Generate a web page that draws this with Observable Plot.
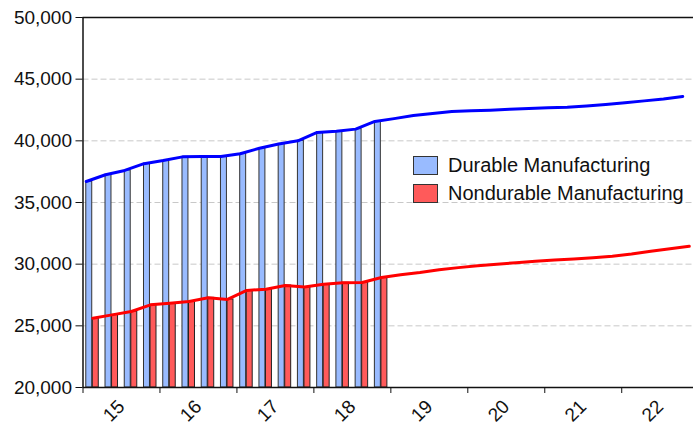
<!DOCTYPE html>
<html>
<head>
<meta charset="utf-8">
<script src="https://cdn.jsdelivr.net/npm/d3@7"></script>
<script src="https://cdn.jsdelivr.net/npm/@observablehq/plot@0.6"></script>
<style>
  html, body { margin: 0; padding: 0; background: #fff; overflow: hidden; }
  #wrap { position: relative; width: 694px; height: 428px; font-family: "Liberation Sans", Arial, sans-serif; }
  #legend { position: absolute; left: 413px; top: 152px; font-size: 20px; color: #111; }
  .row { display: flex; align-items: center; height: 27.7px; }
  .sw { width: 23px; height: 17px; border: 1px solid #333; margin-right: 10px; box-sizing: content-box; }
</style>
</head>
<body>
<div id="wrap">
  <div id="chart"></div>
  <div id="legend"></div>
</div>
<script>
// Quarters 2015Q1 .. 2022Q4 (index 0..31); bars shown for actuals through 2018Q4
const yearLabels = ["15", "16", "17", "18", "19", "20", "21", "22"];
const seriesNames = ["Durable Manufacturing", "Nondurable Manufacturing"];
const durable = [
  36700, 37250, 37600, 38150, 38400, 38700, 38730, 38730,
  38950, 39400, 39750, 40000, 40680, 40780, 40950, 41570,
  41800, 42050, 42220, 42380, 42430, 42480, 42560, 42620,
  42680, 42720, 42820, 42940, 43080, 43240, 43400, 43600
];
const nondurable = [
  25620, 25890, 26160, 26700, 26840, 26970, 27270, 27140,
  27870, 27970, 28270, 28140, 28380, 28490, 28510, 28920,
  29150, 29330, 29550, 29720, 29870, 30000, 30120, 30230,
  30330, 30420, 30520, 30650, 30820, 31050, 31250, 31450
];
const actualCount = 16;
const yTicks = [20000, 25000, 30000, 35000, 40000, 45000, 50000];
const gridValues = [25000, 30000, 35000, 40000, 45000];

const colors = { durFill: "#99bbff", ndFill: "#ff5a5a", durLine: "#0000ff", ndLine: "#ff0000" };

const rows = durable.map((d, i) => ({ q: i, durable: d, nondurable: nondurable[i] }));
const bars = rows.slice(0, actualCount);
const yearStarts = yearLabels.map((_, i) => i * 4);
const yearMids = yearLabels.map((_, i) => i * 4 + 2);

const chart = Plot.plot({
  width: 694,
  height: 428,
  marginLeft: 82.5,
  marginRight: 1,
  marginTop: 17,
  marginBottom: 41,
  style: { fontFamily: "Liberation Sans, Arial, sans-serif", fontSize: "19px", background: "#fff", color: "#111" },
  x: { type: "linear", domain: [0, 31.73], label: null },
  y: { domain: [20000, 50000], label: null },
  marks: [
    Plot.ruleY(gridValues, { stroke: "#c8c8c8", strokeDasharray: "6,3", strokeWidth: 1 }),
    Plot.rectY(bars, { x1: d => d.q + 0.17, x2: d => d.q + 0.48, y1: 20000, y2: "durable", fill: colors.durFill, stroke: "#333", strokeWidth: 1 }),
    Plot.rectY(bars, { x1: d => d.q + 0.51, x2: d => d.q + 0.82, y1: 20000, y2: "nondurable", fill: colors.ndFill, stroke: "#222", strokeWidth: 1 }),
    Plot.line(rows, { x: d => d.q + 0.17, y: "durable", stroke: colors.durLine, strokeWidth: 3 }),
    Plot.line(rows, { x: d => d.q + 0.51, y: "nondurable", stroke: colors.ndLine, strokeWidth: 3 }),
    Plot.ruleY([50000], { stroke: "#111", strokeWidth: 1.3 }),
    Plot.ruleY([20000], { stroke: "#111", strokeWidth: 1.5 }),
    Plot.ruleX([0], { stroke: "#111", strokeWidth: 1.5 }),
    Plot.axisY({ ticks: yTicks, tickFormat: d3.format(","), tickSize: 7, tickPadding: 4, fontSize: 19, label: null }),
    Plot.axisX({ ticks: yearStarts, tickFormat: () => "", tickSize: 6, label: null }),
    Plot.axisX({ ticks: yearMids, tickFormat: v => yearLabels[(v - 2) / 4], tickSize: 0, tickPadding: 16, tickRotate: -45, fontSize: 19, label: null })
  ]
});
document.getElementById("chart").appendChild(chart);

const legend = document.getElementById("legend");
[colors.durFill, colors.ndFill].forEach((c, i) => {
  const row = document.createElement("div");
  row.className = "row";
  const sw = document.createElement("div");
  sw.className = "sw";
  sw.style.background = c;
  const t = document.createElement("span");
  t.textContent = seriesNames[i];
  row.appendChild(sw);
  row.appendChild(t);
  legend.appendChild(row);
});
</script>
</body>
</html>
